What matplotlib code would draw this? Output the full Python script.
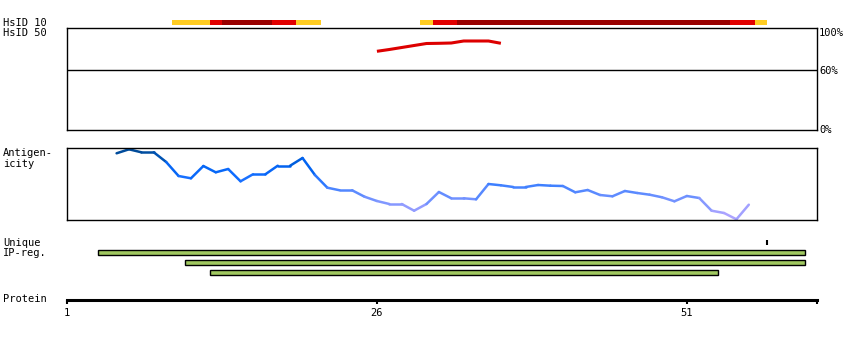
import matplotlib
matplotlib.use('Agg')
import matplotlib.pyplot as plt
from matplotlib.collections import LineCollection
from matplotlib.colors import LinearSegmentedColormap, Normalize
import numpy as np

# HsID 10 bar segments (residue boundaries) and level
hs10_start = [9.5, 12.5, 13.5, 17.5, 19.5, 29.5, 30.5, 32.5, 54.5, 56.5]
hs10_end = [12.5, 13.5, 17.5, 19.5, 21.5, 30.5, 32.5, 54.5, 56.5, 57.5]
hs10_level = ['low', 'mid', 'high', 'mid', 'low', 'low', 'mid', 'high', 'mid', 'low']

# HsID 50 identity (%)
hs50_res = list(range(26, 37))
hs50_pct = [78.7, 80.5, 82.5, 84.5, 86.5, 86.7, 87, 89, 89, 89, 86.7]

# antigenicity profile
ant_res = list(range(5, 57))
ant_val = [66.7, 70.7, 67.7, 67.7, 58, 44, 41.7, 54, 47.7, 51, 38.7, 45.7, 45.7,
           54.3, 54.3, 62, 45, 32.3, 29.7, 29.7, 23.3, 19, 16, 16, 9.3, 16, 28,
           21.7, 21.7, 20.7, 36, 34.7, 33, 33, 35, 34.3, 34, 27.7, 30, 25, 23.7,
           29, 27, 25.3, 22.7, 18.7, 24, 22, 9.3, 7, 0.7, 15.3]

# unique IP regions
ip_start = [3.5, 10.5, 12.5]
ip_end = [60.5, 60.5, 53.5]
unique_pos = [57.45]

prot_len_end = 61.5
prot_ticks = [1, 26, 51]

W, H = 850, 340
fig = plt.figure(figsize=(W / 100, H / 100), dpi=100)


def px_axes(x0, y0, x1, y1):
    return fig.add_axes([x0 / W, 1 - y1 / H, (x1 - x0) / W, (y1 - y0) / H])


mono = dict(family='DejaVu Sans Mono', fontsize=7.5)
X0, X1 = 67, 817
XLIM = (1, prot_len_end)

# HsID 10 bar
ax10 = px_axes(X0, 20, X1, 25)
level_col = {'low': '#ffcc22', 'mid': '#e20000', 'high': '#990000'}
ax10.barh([0.5] * len(hs10_start), np.array(hs10_end) - np.array(hs10_start),
          left=hs10_start, height=1, color=[level_col[l] for l in hs10_level],
          linewidth=0)
ax10.set_xlim(XLIM)
ax10.set_ylim(0, 1)
ax10.axis('off')

# HsID 50 box
ax50 = px_axes(X0, 28, X1, 130)
ax50.plot(hs50_res, hs50_pct, color='#dd0000', lw=2.2, solid_capstyle='butt')
ax50.axhline(60, color='black', lw=1)
ax50.set_xlim(XLIM)
ax50.set_ylim(0, 102)
ax50.set_xticks([])
ax50.set_yticks([])
for s in ax50.spines.values():
    s.set_linewidth(1)

# antigenicity box
axa = px_axes(X0, 148, X1, 220)
pts = np.column_stack([ant_res, ant_val])
segs = np.stack([pts[:-1], pts[1:]], axis=1)
mid = (np.array(ant_val[:-1]) + np.array(ant_val[1:])) / 2
cmap = LinearSegmentedColormap.from_list(
    'ant', [(0.0, '#b4a6ff'), (0.12, '#a0a0ff'), (0.25, '#7e96ff'),
            (0.38, '#5a8aff'), (0.5, '#3a7eff'), (0.62, '#0e6cff'),
            (0.78, '#0062ee'), (0.88, '#0052b0'), (1.0, '#004890')])
lc = LineCollection(segs, array=mid, cmap=cmap, norm=Normalize(0, 72),
                    linewidths=1.8, capstyle='round')
axa.add_collection(lc)
axa.set_xlim(XLIM)
axa.set_ylim(0, 72)
axa.set_xticks([])
axa.set_yticks([])
for s in axa.spines.values():
    s.set_linewidth(1)

# unique IP regions
axi = px_axes(X0, 232.5, X1, 282.5)
axi.barh([2, 3, 4], np.array(ip_end) - np.array(ip_start), left=ip_start,
         height=0.5, color='#a0c860', edgecolor='black', linewidth=1)
axi.vlines(unique_pos, 0.75, 1.25, color='black', lw=1.5)
axi.set_xlim(XLIM)
axi.set_ylim(5, 0)
axi.axis('off')

# protein axis
axp = px_axes(X0, 290, X1, 300)
axp.set_xlim(XLIM)
axp.set_ylim(0, 1)
for k in ['top', 'left', 'right']:
    axp.spines[k].set_visible(False)
axp.spines['bottom'].set_linewidth(2.2)
axp.set_yticks([])
axp.set_xticks(prot_ticks)
axp.set_xticks([prot_len_end], minor=True)
axp.tick_params(axis='x', which='both', length=3, width=1.5, direction='out',
                pad=3, labelsize=7.5)
for t in axp.get_xticklabels():
    t.set_family('DejaVu Sans Mono')
axp.patch.set_alpha(0)

# left labels
labels = [('HsID 10', 22.5), ('HsID 50', 33), ('Antigen-', 153.5), ('icity', 163.5),
          ('Unique', 243), ('IP-reg.', 253.5), ('Protein', 299.5)]
for txt, y in labels:
    fig.text(3 / W, 1 - y / H, txt, ha='left', va='center', **mono)

# right percent labels
for txt, y in [('100%', 33), ('60%', 70.5), ('0%', 130)]:
    fig.text(819 / W, 1 - y / H, txt, ha='left', va='center', **mono)

fig.savefig('out.png', dpi=100)
